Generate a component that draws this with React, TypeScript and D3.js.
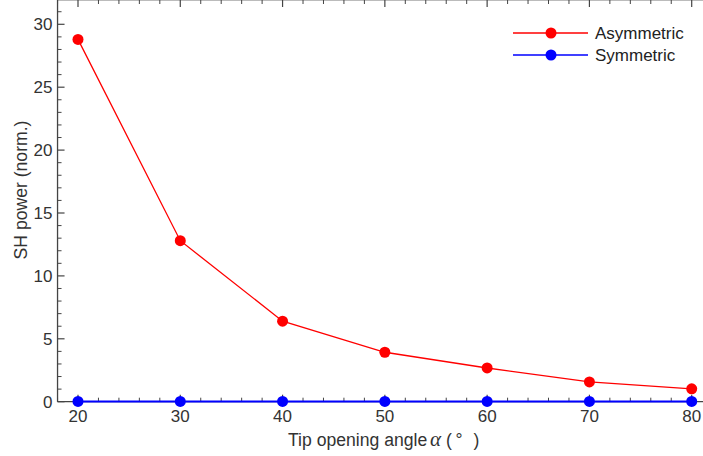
import React from "react";
import * as d3 from "d3";

const angles = [20, 30, 40, 50, 60, 70, 80];
const asymmetric = [28.8, 12.8, 6.4, 3.93, 2.68, 1.57, 1.02];
const symmetric = [0.02, 0.02, 0.02, 0.02, 0.02, 0.02, 0.02];
const xTicks = [20, 30, 40, 50, 60, 70, 80];
const yTicks = [0, 5, 10, 15, 20, 25, 30];
const seriesNames = ["Asymmetric", "Symmetric"];
const seriesColors = ["#ff0000", "#0000ff"];

const W = 703;
const H = 456;

export default function App() {
  const x = d3.scaleLinear().domain([20, 80]).range([78, 691.7]);
  const y = d3.scaleLinear().domain([0, 30]).range([401.7, 24.3]);
  const x0 = x(18);
  const x1 = x(82.5);
  const y0 = y(0);
  const yTop = 0;

  const xMinor: number[] = d3.range(18, 83, 2).filter((v) => v % 10 !== 0);
  const yMinor: number[] = d3.range(0, 33, 1).filter((v) => v % 5 !== 0 && y(v) >= 0);

  const line = d3
    .line<[number, number]>()
    .x((d) => x(d[0]))
    .y((d) => y(d[1]));

  const series = [asymmetric, symmetric];
  const axisColor = "#444";
  const textColor = "#333";
  const font = "'Liberation Sans', Arial, sans-serif";
  const serif = "'Liberation Serif', 'DejaVu Serif', serif";

  return (
    <svg width={W} height={H} style={{ display: "block", position: "absolute", left: 0, top: 0 }}>
      <g fontFamily={font} fill={textColor}>
        {/* top frame */}
        <line x1={x0} x2={x1} y1={yTop + 0.5} y2={yTop + 0.5} stroke="#bbb" strokeWidth={1} />
        {xTicks.map((v) => (
          <line key={"tt" + v} x1={x(v)} x2={x(v)} y1={0} y2={7} stroke={axisColor} strokeWidth={1.2} />
        ))}
        {xMinor.map((v) => (
          <line key={"tm" + v} x1={x(v)} x2={x(v)} y1={0} y2={4} stroke={axisColor} strokeWidth={1} />
        ))}
        {/* left axis */}
        <line x1={x0} x2={x0} y1={yTop} y2={y0} stroke={axisColor} strokeWidth={1.3} />
        {yTicks.map((v) => (
          <g key={"yt" + v}>
            <line x1={x0} x2={x0 + 7} y1={y(v)} y2={y(v)} stroke={axisColor} strokeWidth={1.2} />
            <text x={x0 - 5} y={y(v)} dy="0.36em" textAnchor="end" fontSize={17}>
              {v}
            </text>
          </g>
        ))}
        {yMinor.map((v) => (
          <line key={"ym" + v} x1={x0} x2={x0 + 4} y1={y(v)} y2={y(v)} stroke={axisColor} strokeWidth={1} />
        ))}
        {/* bottom axis */}
        <line x1={x0} x2={x1} y1={y0} y2={y0} stroke={axisColor} strokeWidth={1.3} />
        {xTicks.map((v) => (
          <g key={"xt" + v}>
            <line x1={x(v)} x2={x(v)} y1={y0} y2={y0 - 7} stroke={axisColor} strokeWidth={1.2} />
            <text x={x(v)} y={422} textAnchor="middle" fontSize={17}>
              {v}
            </text>
          </g>
        ))}
        {xMinor.map((v) => (
          <line key={"xm" + v} x1={x(v)} x2={x(v)} y1={y0} y2={y0 - 4} stroke={axisColor} strokeWidth={1} />
        ))}
        {/* axis titles */}
        <text x={288} y={446} fontSize={17.6}>
          Tip opening angle
        </text>
        <text x={430} y={446} fontSize={21} fontFamily={serif} fontStyle="italic">
          α
        </text>
        <text x={446} y={446} fontSize={17.6}>
          (
        </text>
        <text x={455.5} y={446} fontSize={17.6}>
          °
        </text>
        <text x={473.5} y={446} fontSize={17.6}>
          )
        </text>
        <text transform={`translate(27,${190}) rotate(-90)`} textAnchor="middle" fontSize={17.6}>
          SH power (norm.)
        </text>
      </g>
      {/* data */}
      {series.map((s, i) => {
        const pts = angles.map((a, j) => [a, s[j]] as [number, number]);
        return (
          <g key={"s" + i}>
            <path d={line(pts) || ""} fill="none" stroke={seriesColors[i]} strokeWidth={i === 1 ? 2 : 1.3} />
            {pts.map((p, j) => (
              <circle key={j} cx={x(p[0])} cy={y(p[1])} r={5.5} fill={seriesColors[i]} />
            ))}
          </g>
        );
      })}
      {/* legend */}
      <g fontFamily={font}>
        {seriesNames.map((n, i) => {
          const ly = 33 + i * 22;
          return (
            <g key={"lg" + i}>
              <line x1={513} x2={588} y1={ly} y2={ly} stroke={seriesColors[i]} strokeWidth={1.3} />
              <circle cx={551} cy={ly} r={5.5} fill={seriesColors[i]} />
              <text x={595} y={ly} dy="0.36em" fontSize={17} fill="#222">
                {n}
              </text>
            </g>
          );
        })}
      </g>
    </svg>
  );
}
